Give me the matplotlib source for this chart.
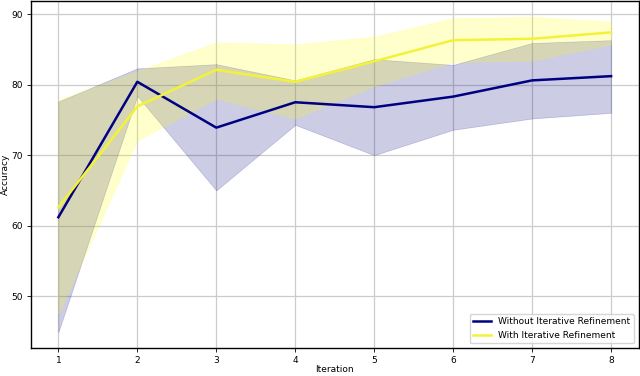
import matplotlib
matplotlib.use("Agg")
import matplotlib.pyplot as plt

iterations = [1, 2, 3, 4, 5, 6, 7, 8]

without_mean = [61.2, 80.4, 73.9, 77.5, 76.8, 78.3, 80.6, 81.2]
without_low = [44.9, 78.4, 65.0, 74.3, 70.0, 73.6, 75.2, 76.0]
without_high = [77.6, 82.3, 82.9, 80.6, 83.6, 82.8, 85.9, 86.3]

with_mean = [62.6, 76.9, 82.1, 80.4, 83.3, 86.3, 86.5, 87.4]
with_low = [47.5, 72.1, 78.0, 75.2, 79.8, 83.2, 83.4, 85.7]
with_high = [77.8, 81.9, 86.0, 85.7, 86.8, 89.4, 89.6, 88.9]

fig = plt.figure(figsize=(6.4, 3.76), dpi=100)
ax = fig.add_axes([0.048, 0.0745, 0.950, 0.9225])

ax.fill_between(iterations, without_low, without_high, color="navy", alpha=0.2, linewidth=0.5)
ax.fill_between(iterations, with_low, with_high, color="yellow", alpha=0.2, linewidth=0.5)
ax.plot(iterations, without_mean, color="navy", linewidth=1.8, label="Without Iterative Refinement")
ax.plot(iterations, with_mean, color="#f2f23a", linewidth=1.8, label="With Iterative Refinement")

ax.grid(True, color="#cccccc", linewidth=0.9)
ax.set_axisbelow(True)
ax.set_xticks(iterations)
ax.tick_params(labelsize=6.5, length=3, width=0.6, pad=2.5)
ax.set_xlabel("Iteration", fontsize=6.5, labelpad=0.5)
ax.set_ylabel("Accuracy", fontsize=6.5, labelpad=1)
for s in ax.spines.values():
    s.set_linewidth(1.0)
ax.legend(loc="lower right", fontsize=6.5)

fig.savefig("out.png", dpi=100)
